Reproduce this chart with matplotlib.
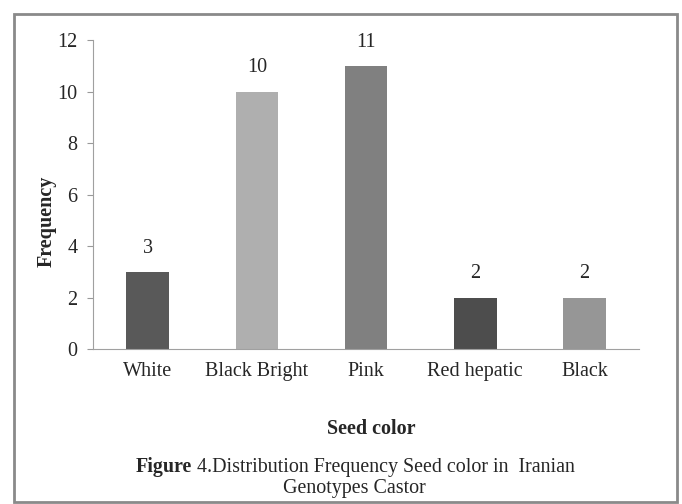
import matplotlib.pyplot as plt
from matplotlib.patches import Rectangle

categories = ["White", "Black Bright", "Pink", "Red hepatic", "Black"]
frequency = [3, 10, 11, 2, 2]
bar_colors = ["#595959", "#afafaf", "#808080", "#4d4d4d", "#969696"]
y_ticks = [0, 2, 4, 6, 8, 10, 12]

plt.rcParams['font.family'] = ['Liberation Serif', 'DejaVu Serif']
txt_color = '#262626'

fig = plt.figure(figsize=(6.82, 5.04), dpi=100)
ax = fig.add_axes([0.1364, 0.3075, 0.8006, 0.613])

x = range(len(categories))
ax.bar(x, frequency, width=0.39, color=bar_colors)
for xi, v in zip(x, frequency):
    ax.text(xi, v + 0.55, str(v), ha='center', va='bottom', fontsize=14.5, color=txt_color)

ax.set_xlim(-0.5, len(categories) - 0.5)
ax.set_ylim(0, 12)
ax.set_yticks(y_ticks)
ax.set_xticks(list(x))
ax.set_xticklabels(categories, fontsize=14.5, color=txt_color)
ax.tick_params(axis='x', length=0, pad=9)
ax.tick_params(axis='y', length=4, color='#999999', labelsize=14.5, labelcolor=txt_color, pad=7)
for s in ['top', 'right']:
    ax.spines[s].set_visible(False)
ax.spines['left'].set_color('#a0a0a0')
ax.spines['bottom'].set_color('#a0a0a0')

fig.text(0.069, 0.561, 'Frequency', rotation=90, ha='center', va='center',
         fontsize=14.5, fontweight='bold', color=txt_color)
fig.text(0.545, 0.149, 'Seed color', ha='center', va='center', fontsize=14.5,
         fontweight='bold', color=txt_color)

# caption: bold "Figure" followed by regular text on the same line
cap_y = 0.0734
t1 = fig.text(0.1987, cap_y, 'Figure', ha='left', va='center', fontsize=14.4,
              fontweight='bold', color=txt_color)
renderer = fig.canvas.get_renderer()
ext = t1.get_window_extent(renderer).transformed(fig.transFigure.inverted())
fig.text(ext.x1, cap_y, ' 4.Distribution Frequency Seed color in  Iranian', ha='left',
         va='center', fontsize=14.4, color=txt_color)
fig.text(0.52, 0.0298, 'Genotypes Castor', ha='center', va='center', fontsize=14.4,
         color=txt_color)

fig.patches.append(Rectangle((0.02, 0.004), 0.972, 0.968, transform=fig.transFigure,
                             fill=False, edgecolor='#8a8a8a', linewidth=2))

fig.savefig('out.png', dpi=100)
